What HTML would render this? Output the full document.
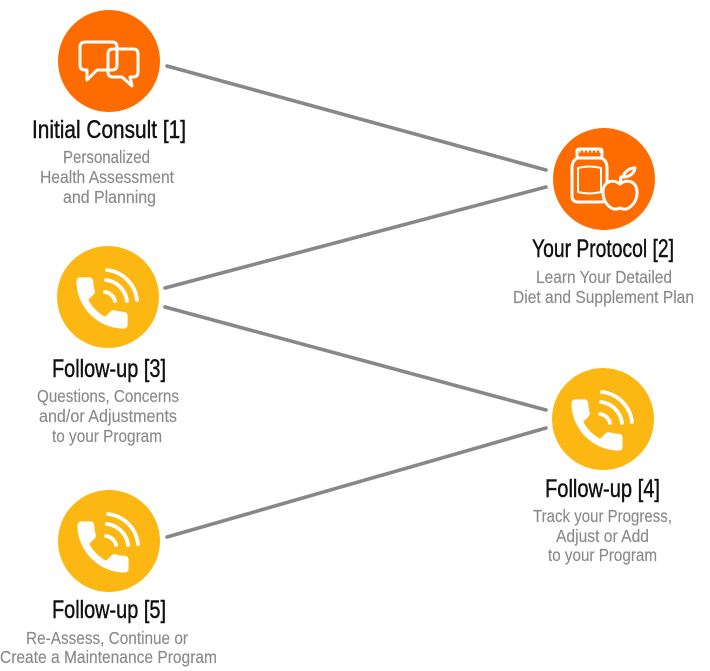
<!DOCTYPE html>
<html><head><meta charset="utf-8"><style>
html,body{margin:0;padding:0;background:#fff;}
svg{display:block;}
.t{font-family:"Liberation Sans Narrow","Liberation Sans",sans-serif;font-size:25px;fill:#111;stroke:#111;stroke-width:0.45px;}
.s{font-family:"Liberation Sans Narrow","Liberation Sans",sans-serif;font-size:17.5px;fill:#8a8a8a;stroke:#8a8a8a;stroke-width:0.15px;}
</style></head><body>
<svg width="710" height="671" viewBox="0 0 710 671" xmlns="http://www.w3.org/2000/svg">
<g stroke="#888" stroke-width="3.6" stroke-linecap="round" fill="none">
<line x1="167" y1="66" x2="546" y2="170"/>
<line x1="165" y1="288" x2="546" y2="187"/>
<line x1="165" y1="307" x2="546" y2="410"/>
<line x1="167" y1="537" x2="546" y2="428"/>
</g>
<circle cx="109" cy="61" r="51" fill="#fe6c00"/>
<circle cx="604" cy="179" r="51" fill="#fe6c00"/>
<circle cx="108" cy="297" r="51" fill="#fdb713"/>
<circle cx="603" cy="419" r="51" fill="#fdb713"/>
<circle cx="109" cy="541" r="51" fill="#fdb713"/>

<!-- speech bubbles -->
<g fill="none" stroke="#fff" stroke-width="3" stroke-linejoin="round">
<path d="M86,42 H112 Q117,42 117,47 V65 Q117,70 112,70 H97 L87,80 L87,70 H85 Q80,70 80,65 V47 Q80,42 86,42 Z"/>
<path d="M113,49 H133 Q138,49 138,54 V72 Q138,77 133,77 H130 L132,86 L122,77 H113 Q108,77 108,72 V54 Q108,49 113,49 Z"/>
</g>

<!-- jar + apple -->
<g fill="none" stroke="#fff" stroke-width="3" stroke-linejoin="round" stroke-linecap="round">
<rect x="577" y="149" width="25" height="9" rx="2"/>
<path d="M580,149 v3 M584,149 v3 M588,149 v3 M592,149 v3 M596,149 v3 M600,149 v3" stroke-width="1.5"/>
<path d="M578,158 H601 Q607,160 607,168 V196 Q607,202 601,202 H578 Q572,202 572,196 V168 Q572,160 578,158 Z"/>
<path d="M578,168 Q589,165 601,168 V192 Q589,195 578,192 Z" stroke-width="2"/>
<path d="M620,184 C612,178 602,182 603,194 C604,204 612,212 620,208 C628,212 636,204 637,194 C638,182 628,178 620,184 Z" fill="#fe6c00"/>
<path d="M620,184 L621,177"/>
<path d="M623,177 C625,170 631,168 635,168 C634,174 629,177 623,177 Z"/>
</g>

<!-- phones -->
<defs>
<g id="ph">
<path d="M6.62 10.79c1.44 2.83 3.76 5.14 6.59 6.59l2.2-2.2c.27-.27.67-.36 1.02-.24 1.12.37 2.330.57 3.57.57.55 0 1 .45 1 1V20c0 .55-.45 1-1 1-9.39 0-17-7.610-17-17 0-.55.45-1 1-1h3.5c.55 0 1 .45 1 1 0 1.250.2 2.45.57 3.57.11.35.03.74-.25 1.02l-2.2 2.2z" fill="#fff" stroke="#fff" stroke-width="0.6" stroke-linejoin="round" transform="translate(-39,-27) scale(2.75)"/>
<g fill="none" stroke="#fff" stroke-width="3.8" stroke-linecap="round">
<path d="M-3,-5 A12,12 0 0 1 7,4"/>
<path d="M-2,-17 A24,24 0 0 1 19,4"/>
<path d="M-1,-27 A34,34 0 0 1 29,3"/>
</g>
</g>
</defs>
<use href="#ph" x="108" y="297"/>
<use href="#ph" x="603" y="419"/>
<use href="#ph" x="109" y="541"/>

<!-- texts -->
<text class="t" x="109" y="138" text-anchor="middle" textLength="154" lengthAdjust="spacingAndGlyphs">Initial Consult [1]</text>
<text class="s" x="106.5" y="163" text-anchor="middle" textLength="87" lengthAdjust="spacingAndGlyphs">Personalized</text>
<text class="s" x="107" y="183" text-anchor="middle" textLength="134" lengthAdjust="spacingAndGlyphs">Health Assessment</text>
<text class="s" x="109.5" y="203" text-anchor="middle" textLength="93" lengthAdjust="spacingAndGlyphs">and Planning</text>

<text class="t" x="603" y="257" text-anchor="middle" textLength="142" lengthAdjust="spacingAndGlyphs">Your Protocol [2]</text>
<text class="s" x="604" y="283" text-anchor="middle" textLength="136" lengthAdjust="spacingAndGlyphs">Learn Your Detailed</text>
<text class="s" x="603.5" y="303" text-anchor="middle" textLength="181" lengthAdjust="spacingAndGlyphs">Diet and Supplement Plan</text>

<text class="t" x="109" y="377" text-anchor="middle" textLength="114" lengthAdjust="spacingAndGlyphs">Follow-up [3]</text>
<text class="s" x="108" y="402" text-anchor="middle" textLength="142" lengthAdjust="spacingAndGlyphs">Questions, Concerns</text>
<text class="s" x="108" y="422" text-anchor="middle" textLength="138" lengthAdjust="spacingAndGlyphs">and/or Adjustments</text>
<text class="s" x="107" y="442" text-anchor="middle" textLength="110" lengthAdjust="spacingAndGlyphs">to your Program</text>

<text class="t" x="602.5" y="497" text-anchor="middle" textLength="115" lengthAdjust="spacingAndGlyphs">Follow-up [4]</text>
<text class="s" x="602.5" y="522" text-anchor="middle" textLength="139" lengthAdjust="spacingAndGlyphs">Track your Progress,</text>
<text class="s" x="602.5" y="542" text-anchor="middle" textLength="93" lengthAdjust="spacingAndGlyphs">Adjust or Add</text>
<text class="s" x="602.5" y="561" text-anchor="middle" textLength="109" lengthAdjust="spacingAndGlyphs">to your Program</text>

<text class="t" x="109" y="618" text-anchor="middle" textLength="114" lengthAdjust="spacingAndGlyphs">Follow-up [5]</text>
<text class="s" x="107" y="644" text-anchor="middle" textLength="162" lengthAdjust="spacingAndGlyphs">Re-Assess, Continue or</text>
<text class="s" x="108.5" y="663" text-anchor="middle" textLength="217" lengthAdjust="spacingAndGlyphs">Create a Maintenance Program</text>
</svg>
</body></html>
